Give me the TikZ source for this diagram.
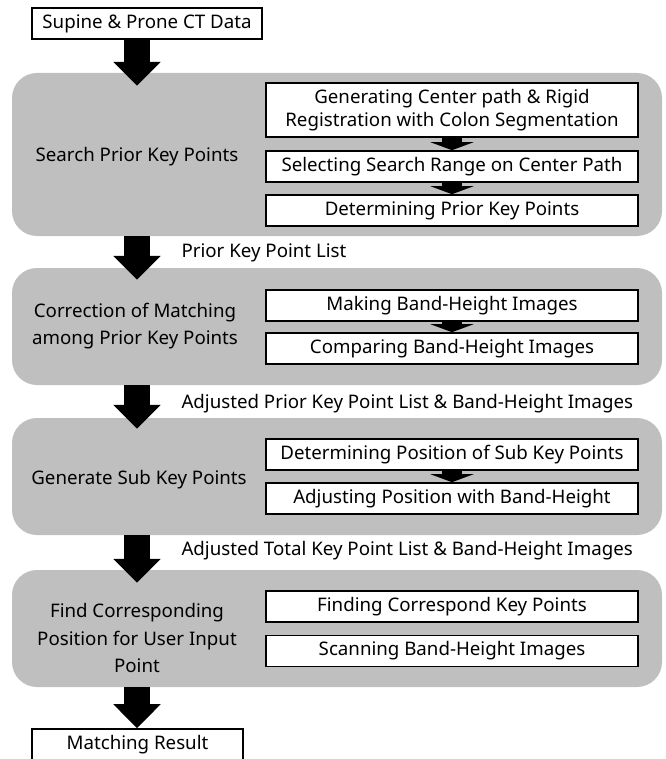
\documentclass[tikz,border=0pt]{standalone}
\usepackage{fontspec}
\setmainfont{Noto Sans}
\usetikzlibrary{arrows.meta}

\begin{document}
\begin{tikzpicture}[x=1pt, y=-1pt,
        font=\fontsize{18.7}{27.5}\selectfont,
        panel/.style={fill=black!25, rounded corners=25pt, minimum width=650pt, minimum height=117pt},
        stepbox/.style={draw, line width=1.6pt, fill=white, minimum width=372pt, minimum height=31pt, inner sep=0pt, align=center},
        iobox/.style={draw, line width=1.6pt, fill=white, minimum height=31pt, inner sep=0pt},
        fat/.style={line width=26pt, -{Triangle[width=46pt, length=24pt]}},
        smallarrow/.style={line width=20pt, -{Triangle[width=43pt, length=8pt]}}]
    \useasboundingbox (0,0) rectangle (665,759);

    \node[iobox, minimum width=230pt] (src) at (147,23.5) {Supine \& Prone CT Data};

    \node[panel, minimum height=163pt] (p1) at (337,154.5) {};
    \node (p1lbl) at (137,157) {Search Prior Key Points};
    \node[stepbox, minimum height=54pt, font=\fontsize{18.7}{22.5}\selectfont] (p1a) at (452,110) {Generating Center path \& Rigid\\Registration with Colon Segmentation};
    \node[stepbox] (p1b) at (452,166.5) {Selecting Search Range on Center Path};
    \node[stepbox] (p1c) at (452,210.5) {Determining Prior Key Points};

    \node[panel] (p2) at (337,326.5) {};
    \node[align=center] (p2lbl) at (135,326) {Correction of Matching\\among Prior Key Points};
    \node[stepbox] (p2a) at (452,305.5) {Making Band-Height Images};
    \node[stepbox] (p2b) at (452,348.5) {Comparing Band-Height Images};

    \node[panel] (p3) at (337,476.5) {};
    \node (p3lbl) at (139,480) {Generate Sub Key Points};
    \node[stepbox] (p3a) at (452,454.5) {Determining Position of Sub Key Points};
    \node[stepbox] (p3b) at (452,498.5) {Adjusting Position with Band-Height};

    \node[panel] (p4) at (337,628.5) {};
    \node[align=center] (p4lbl) at (137,638) {Find Corresponding\\Position for User Input\\Point};
    \node[stepbox] (p4a) at (452,606.5) {Finding Correspond Key Points};
    \node[stepbox] (p4b) at (452,651) {Scanning Band-Height Images};

    \node[iobox, minimum width=211pt, minimum height=32pt] (res) at (137.5,745) {Matching Result};

    \node[anchor=west] (l1) at (178,253) {Prior Key Point List};
    \node[anchor=west] (l2) at (178,404) {Adjusted Prior Key Point List \& Band-Height Images};
    \node[anchor=west] (l3) at (178,551) {Adjusted Total Key Point List \& Band-Height Images};

    \draw[fat] (src.south -| p1lbl) -- ([yshift=-13pt]p1.north -| p1lbl);
    \draw[fat] (p1.south -| p1lbl) -- ([yshift=-12pt]p2.north -| p1lbl);
    \draw[fat] (p2.south -| p1lbl) -- ([yshift=-11pt]p3.north -| p1lbl);
    \draw[fat] (p3.south -| p1lbl) -- ([yshift=-13pt]p4.north -| p1lbl);
    \draw[fat] (p4.south -| p1lbl) -- (res.north -| p1lbl);

    \draw[smallarrow] (p1a) -- (p1b);
    \draw[smallarrow] (p1b) -- (p1c);
    \draw[smallarrow] (p2a) -- (p2b);
    \draw[smallarrow] (p3a) -- (p3b);
\end{tikzpicture}
\end{document}
